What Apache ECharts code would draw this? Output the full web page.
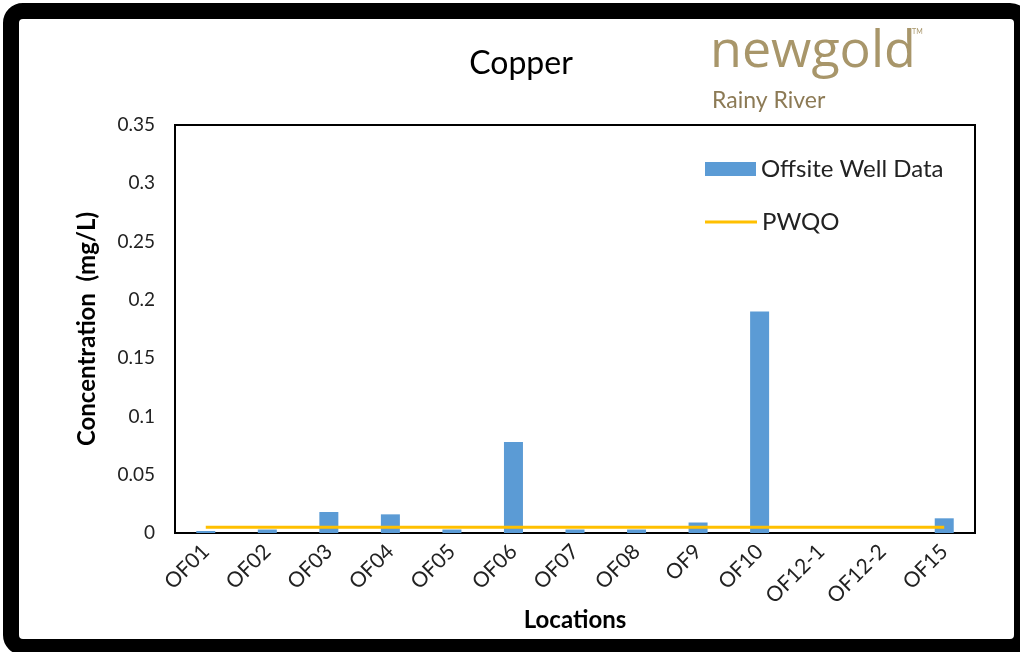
<!DOCTYPE html>
<html>
<head>
<meta charset="utf-8">
<script src="https://cdn.jsdelivr.net/npm/echarts@6/dist/echarts.min.js"></script>
<style>
  html, body { margin: 0; padding: 0; background: #fff; }
  #main { width: 1020px; height: 652px; }
</style>
</head>
<body>
<div id="main"></div>
<script>
var locations = ['OF01', 'OF02', 'OF03', 'OF04', 'OF05', 'OF06', 'OF07', 'OF08', 'OF9', 'OF10', 'OF12-1', 'OF12-2', 'OF15'];
var wellData = [0.0017, 0.003, 0.018, 0.016, 0.003, 0.078, 0.003, 0.003, 0.009, 0.19, null, null, 0.0126];
var pwqo = [0.005, 0.005, 0.005, 0.005, 0.005, 0.005, 0.005, 0.005, 0.005, 0.005, 0.005, 0.005, 0.005];

var font = 'Lato, "Open Sans", sans-serif';
var myChart = echarts.init(document.getElementById('main'));

var legendText = { fontFamily: font, fontSize: 24, color: '#222' };

var option = {
    backgroundColor: '#fff',
    animation: false,
    title: {
        text: 'Copper',
        left: 516,
        top: 43,
        textAlign: 'center',
        textStyle: { fontFamily: font, fontSize: 32, fontWeight: 'normal', color: '#000' }
    },
    legend: [
        {
            orient: 'vertical',
            left: 700,
            top: 152,
            itemWidth: 51,
            itemHeight: 14,
            textStyle: legendText,
            data: [{ name: 'Offsite Well Data', icon: 'rect' }]
        },
        {
            orient: 'vertical',
            left: 700,
            top: 205,
            itemWidth: 52,
            itemHeight: 3,
            textStyle: legendText,
            data: [{ name: 'PWQO', icon: 'rect' }]
        }
    ],
    grid: {
        left: 175,
        right: 45,
        top: 125,
        bottom: 119,
        show: true,
        borderColor: '#000',
        borderWidth: 2
    },
    xAxis: {
        type: 'category',
        data: locations,
        name: 'Locations',
        nameLocation: 'middle',
        nameGap: 75,
        nameMoveOverlap: false,
        nameTextStyle: { fontFamily: font, fontSize: 24, fontWeight: 'bold', color: '#000' },
        axisLine: { lineStyle: { color: '#000', width: 2 } },
        axisTick: { show: false },
        axisLabel: { interval: 0, rotate: 45, fontFamily: font, fontSize: 21, color: '#222', margin: 15 }
    },
    yAxis: {
        type: 'value',
        min: 0,
        max: 0.35,
        interval: 0.05,
        name: 'Concentration  (mg/L)',
        nameLocation: 'middle',
        nameGap: 76,
        nameMoveOverlap: false,
        nameTextStyle: { fontFamily: font, fontSize: 24, fontWeight: 'bold', color: '#000' },
        axisLine: { show: true, lineStyle: { color: '#000', width: 2 } },
        axisTick: { show: false },
        splitLine: { show: false },
        axisLabel: { fontFamily: font, fontSize: 19, color: '#222', margin: 20 }
    },
    series: [
        {
            name: 'Offsite Well Data',
            type: 'bar',
            barWidth: 19,
            itemStyle: { color: '#5B9BD5' },
            data: wellData
        },
        {
            name: 'PWQO',
            type: 'line',
            symbol: 'none',
            lineStyle: { color: '#FFC000', width: 3 },
            itemStyle: { color: '#FFC000' },
            data: pwqo
        }
    ],
    graphic: [
        {
            type: 'rect',
            shape: { x: 11, y: 11, width: 1011, height: 636, r: 12 },
            style: { fill: null, stroke: '#000', lineWidth: 16 }
        },
        {
            type: 'text',
            left: 710,
            top: 26,
            style: { text: 'newgold', fontFamily: '"Open Sans", sans-serif', fontSize: 52, fill: '#a8966a' }
        },
        {
            type: 'text',
            left: 912,
            top: 28,
            style: { text: 'TM', fontFamily: font, fontSize: 7, fill: '#a8966a' }
        },
        {
            type: 'text',
            left: 712,
            top: 89,
            style: { text: 'Rainy River', fontFamily: font, fontSize: 23, fill: '#8c7a55' }
        }
    ]
};
myChart.setOption(option);
</script>
</body>
</html>
